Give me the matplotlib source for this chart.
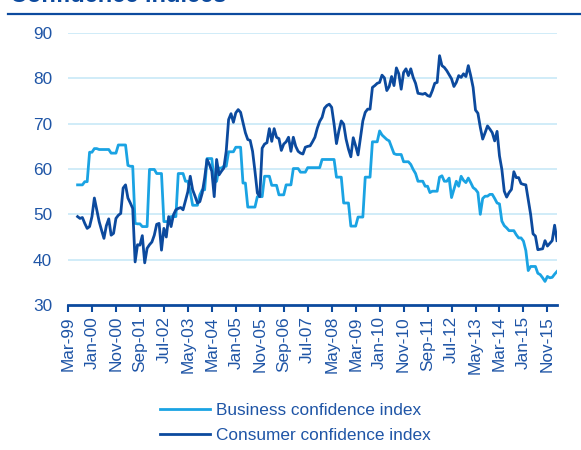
import numpy as np
import matplotlib.pyplot as plt

# monthly index values, Jul-99 .. Mar-16
business = [
    56.5, 56.5, 56.5, 57.2, 57.2, 63.7, 63.7, 64.5, 64.5, 64.3,
    64.3, 64.3, 64.3, 64.3, 63.5, 63.5, 63.5, 65.3, 65.3, 65.3,
    65.3, 60.8, 60.6, 60.6, 48.0, 47.9, 47.9, 47.3, 47.3, 47.3,
    59.9, 59.9, 59.9, 59.0, 59.0, 59.0, 48.4, 48.4, 48.4, 49.5,
    49.5, 49.5, 59.0, 59.0, 59.0, 57.3, 57.3, 55.0, 52.0, 52.0,
    52.0, 54.3, 55.4, 55.4, 62.3, 62.3, 62.3, 57.0, 57.3, 60.2,
    60.2, 60.6, 60.6, 63.8, 63.8, 63.8, 64.8, 64.8, 64.8, 56.9,
    56.9, 51.6, 51.6, 51.6, 51.6, 53.9, 53.9, 53.9, 58.4, 58.4,
    58.4, 56.4, 56.4, 56.4, 54.3, 54.3, 54.3, 56.5, 56.5, 56.5,
    60.1, 60.1, 60.1, 59.3, 59.3, 59.3, 60.3, 60.3, 60.3, 60.3,
    60.3, 60.3, 62.1, 62.1, 62.1, 62.1, 62.1, 62.1, 58.2, 58.2,
    58.2, 52.5, 52.5, 52.5, 47.4, 47.4, 47.4, 49.4, 49.4, 49.4,
    58.2, 58.2, 58.2, 66.0, 66.0, 66.0, 68.4, 67.5, 67.0, 66.5,
    66.2, 64.8, 63.4, 63.2, 63.2, 63.2, 61.6, 61.6, 61.6, 61.0,
    59.9, 59.0, 57.3, 57.3, 57.3, 56.2, 56.2, 54.8, 55.1, 55.1,
    55.1, 58.2, 58.5, 57.3, 57.3, 58.0, 53.7, 55.5, 57.3, 56.2,
    58.4, 57.5, 57.0, 58.0, 57.0, 55.9, 55.5, 54.8, 50.0, 53.5,
    54.0, 54.0, 54.4, 54.4, 53.5, 52.5, 52.3, 48.5, 47.5, 47.0,
    46.4, 46.4, 46.4, 45.5, 44.8, 44.8, 44.1, 42.0, 37.6, 38.5,
    38.5, 38.5, 37.0, 36.7, 36.0, 35.2, 36.3, 36.0, 36.1, 36.8,
    37.4,
]
consumer = [
    49.5, 49.1, 49.3, 48.0, 46.9, 47.3, 49.5, 53.6, 51.0, 48.4,
    46.5, 44.7, 47.5, 49.0, 45.4, 45.8, 49.1, 49.8, 50.2, 55.8,
    56.5, 53.6, 52.5, 51.3, 39.5, 43.3, 43.2, 45.3, 39.3, 42.5,
    43.3, 43.9, 45.4, 47.8, 48.0, 42.1, 46.9, 45.0, 49.5, 47.3,
    49.9, 51.0, 51.3, 51.5, 51.0, 53.0, 55.0, 58.4, 55.4, 54.0,
    52.5, 52.8, 54.7, 58.0, 62.1, 61.0, 59.5, 53.9, 62.1, 58.7,
    59.5, 60.2, 63.9, 70.9, 72.2, 70.3, 72.4, 73.1, 72.5, 70.2,
    68.0, 66.5, 66.3, 63.9, 59.5, 54.7, 53.9, 64.6, 65.5, 65.8,
    68.9, 66.1, 68.9, 67.0, 66.7, 64.1, 65.5, 66.0, 67.0, 63.9,
    67.0, 65.0, 63.9, 63.5, 63.3, 64.8, 65.0, 65.1, 66.0, 67.0,
    69.0, 70.5, 71.4, 73.4, 74.0, 74.3, 73.6, 69.9, 65.6, 68.4,
    70.6, 69.9, 66.6, 64.4, 62.7, 66.9, 65.1, 63.1, 66.9, 70.6,
    72.5, 73.2, 73.2, 78.0, 78.4, 78.9, 79.1, 80.7, 80.1, 77.3,
    78.2, 80.4, 78.4, 82.3, 81.0, 77.6, 81.3, 82.1, 80.6, 82.1,
    80.2, 78.9, 76.7, 76.6, 76.5, 76.7, 76.2, 76.0, 77.3, 78.9,
    79.1, 85.0, 82.8, 82.4, 81.7, 80.8, 79.9, 78.2, 79.1, 80.6,
    80.2, 81.0, 80.4, 82.8, 80.6, 78.0, 73.0, 72.3, 69.2, 66.6,
    68.0, 69.5, 68.8, 68.0, 66.2, 68.3, 62.9, 59.9, 55.1, 53.8,
    54.8, 55.5, 59.4, 58.1, 58.1, 56.8, 56.6, 56.5, 53.3, 50.0,
    45.7, 45.2, 42.2, 42.3, 42.4, 44.2, 43.0, 43.6, 44.2, 47.6,
    44.2,
]
tick_labels = ["Mar-99", "Jan-00", "Nov-00", "Sep-01", "Jul-02", "May-03",
               "Mar-04", "Jan-05", "Nov-05", "Sep-06", "Jul-07", "May-08",
               "Mar-09", "Jan-10", "Nov-10", "Sep-11", "Jul-12", "May-13",
               "Mar-14", "Jan-15", "Nov-15"]

light = '#1aa3e3'
dark = '#0c4a9e'
text_col = '#1f55a6'

plt.rcParams['font.family'] = ['Liberation Sans', 'DejaVu Sans']

W, H = 581, 450
fig = plt.figure(figsize=(W / 100, H / 100), dpi=100)
ax = fig.add_axes([68 / W, 1 - 305 / H, (557 - 68) / W, (305 - 33) / H])

# months counted from Mar-99; data starts Jul-99
x = np.arange(4, 4 + len(business))
ax.plot(x, business, color=light, lw=2.0, label='Business confidence index')
ax.plot(x, consumer, color=dark, lw=2.0, label='Consumer confidence index')

ax.set_xlim(0, 204)
ax.set_ylim(30, 90)
ax.set_yticks(range(30, 91, 10))
ax.set_xticks(np.arange(len(tick_labels)) * 10)
ax.set_xticklabels(tick_labels, rotation=90)

for y in range(40, 91, 10):
    ax.axhline(y, color='#cdebf8', lw=1.3, zorder=0)

for s in ['top', 'right', 'left']:
    ax.spines[s].set_visible(False)
ax.spines['bottom'].set_color(dark)
ax.spines['bottom'].set_linewidth(2)
ax.tick_params(axis='x', colors=dark, length=5, width=1.5, pad=3,
               labelsize=12.4, labelcolor=text_col)
ax.tick_params(axis='y', length=0, pad=11.5, labelsize=12.4, labelcolor=text_col)

# title strip, mostly cut off at the top edge as in the source
fig.text(10 / W, 1 - 2 / H, 'Confidence indices', fontsize=17, fontweight='bold',
         color=dark, va='baseline', ha='left')
fig.add_artist(plt.Line2D([8 / W, 1], [1 - 13.5 / H] * 2, color=dark, lw=1.6))

fig.legend(loc='upper left', bbox_to_anchor=(160 / W, 1 - 403 / H), frameon=False,
           fontsize=12.4, labelcolor=text_col, handlelength=2.9,
           handletextpad=0.35, labelspacing=0.55, borderpad=0, borderaxespad=0)

fig.savefig('out.png', dpi=100)
